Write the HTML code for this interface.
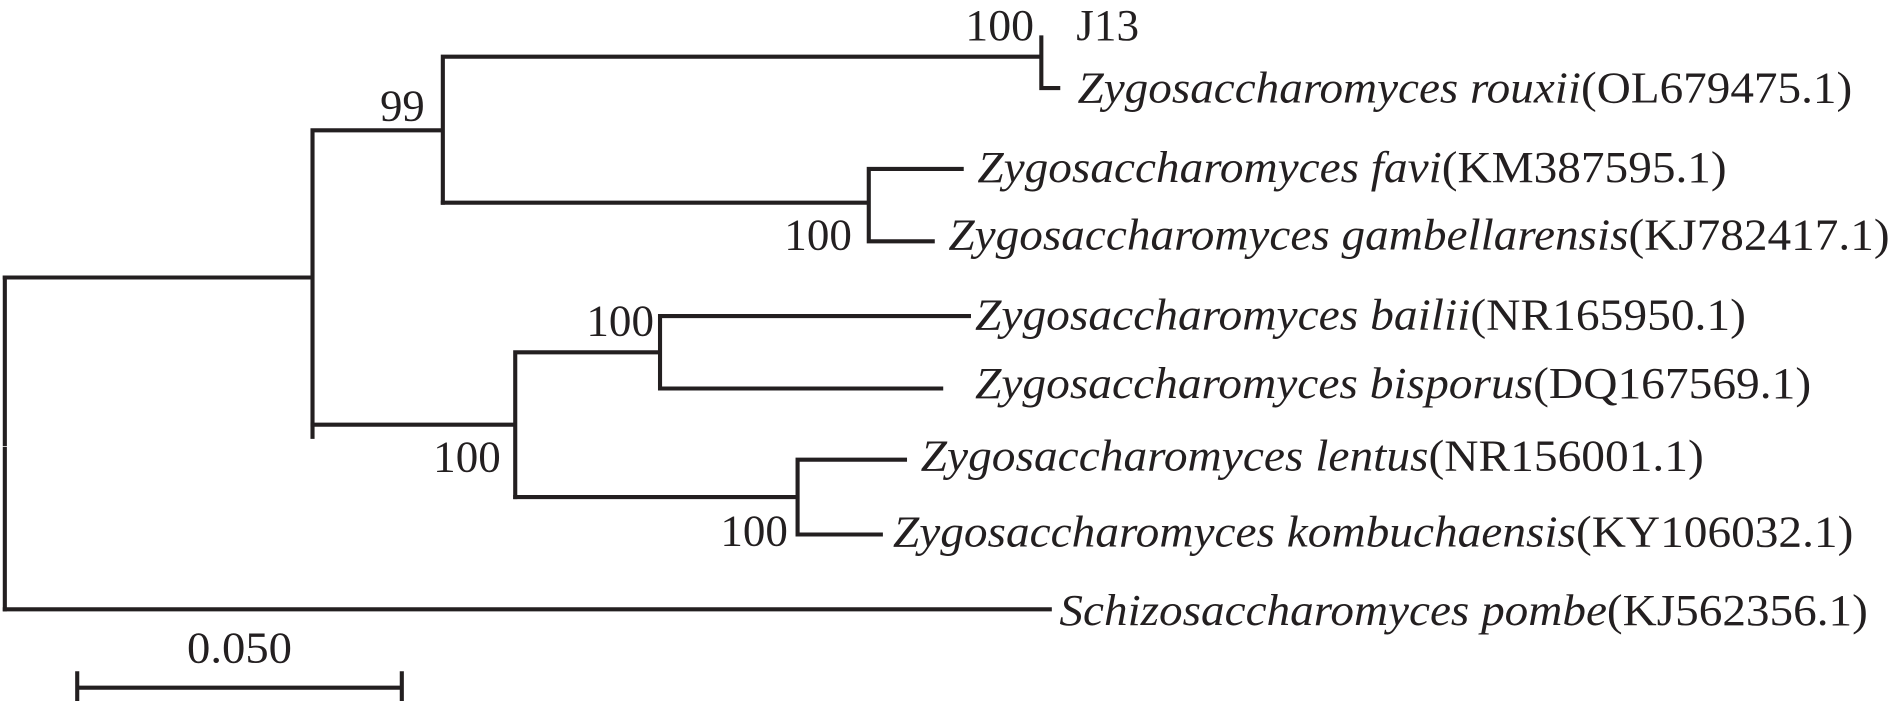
<!DOCTYPE html>
<html><head><meta charset="utf-8"><style>
html,body{margin:0;padding:0;background:#fff;}
svg{display:block;}
text{font-family:"Liberation Serif",serif;font-size:37px;fill:#231f20;}
.i{font-style:italic;}
</style></head><body>
<svg width="1892" height="701" viewBox="0 0 1568 581" preserveAspectRatio="none">
<g stroke="#231f20" stroke-width="3.4" fill="none" stroke-linecap="square">
<path d="M4 230V368M4 372V505"/>
<path d="M4 230H259M259 108V362M259 108H367M367 47V168M367 47H863M863 31V73M863 73H877"/>
<path d="M367 168H720M720 140V200M720 140H797M720 200H773"/>
<path d="M259 352H427M427 292V412M427 292H547M547 262V322M547 262H803M547 322H780"/>
<path d="M427 412H661M661 381V443M661 381H750M661 443H730"/>
<path d="M4 505H870"/>
<path d="M64 570H333M64 558V581M333 558V581"/>
</g>
<text x="800" y="33" textLength="57" lengthAdjust="spacingAndGlyphs">100</text>
<text x="315" y="100" textLength="37" lengthAdjust="spacingAndGlyphs">99</text>
<text x="650" y="207" textLength="56" lengthAdjust="spacingAndGlyphs">100</text>
<text x="486" y="278" textLength="56" lengthAdjust="spacingAndGlyphs">100</text>
<text x="359" y="391" textLength="56" lengthAdjust="spacingAndGlyphs">100</text>
<text x="597" y="452" textLength="56" lengthAdjust="spacingAndGlyphs">100</text>
<text x="155" y="549" textLength="87" lengthAdjust="spacingAndGlyphs">0.050</text>
<text x="892" y="33" textLength="52" lengthAdjust="spacingAndGlyphs">J13</text>
<text x="893" y="85" textLength="642" lengthAdjust="spacingAndGlyphs"><tspan class="i">Zygosaccharomyces rouxii</tspan>(OL679475.1)</text>
<text x="810" y="151" textLength="621" lengthAdjust="spacingAndGlyphs"><tspan class="i">Zygosaccharomyces favi</tspan>(KM387595.1)</text>
<text x="786" y="207" textLength="780" lengthAdjust="spacingAndGlyphs"><tspan class="i">Zygosaccharomyces gambellarensis</tspan>(KJ782417.1)</text>
<text x="808" y="273" textLength="639" lengthAdjust="spacingAndGlyphs"><tspan class="i">Zygosaccharomyces bailii</tspan>(NR165950.1)</text>
<text x="808" y="330" textLength="693" lengthAdjust="spacingAndGlyphs"><tspan class="i">Zygosaccharomyces bisporus</tspan>(DQ167569.1)</text>
<text x="763" y="390" textLength="649" lengthAdjust="spacingAndGlyphs"><tspan class="i">Zygosaccharomyces lentus</tspan>(NR156001.1)</text>
<text x="740" y="453" textLength="796" lengthAdjust="spacingAndGlyphs"><tspan class="i">Zygosaccharomyces kombuchaensis</tspan>(KY106032.1)</text>
<text x="878" y="518" textLength="670" lengthAdjust="spacingAndGlyphs"><tspan class="i">Schizosaccharomyces pombe</tspan>(KJ562356.1)</text>
</svg>
</body></html>
